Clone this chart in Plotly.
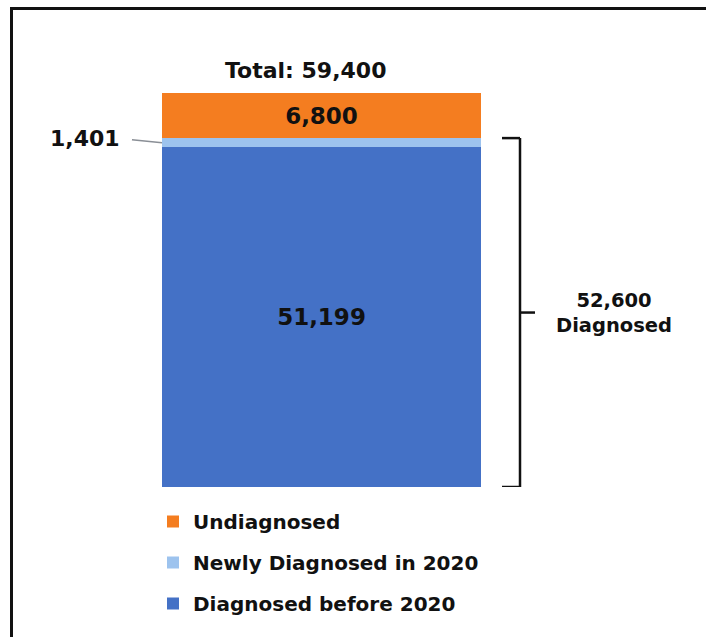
import plotly.graph_objects as go

# Estimated people living with the condition, split by diagnosis status
segments = ["Diagnosed before 2020", "Newly Diagnosed in 2020", "Undiagnosed"]
counts = [51199, 1401, 6800]
colors = ["#4471C6", "#9DC3EE", "#F47D20"]
legend_rank = [3, 2, 1]
category = ["Total"]

total = sum(counts)
diagnosed = counts[0] + counts[1]

W, H = 706, 637
# plot area (pixels) hosting the single stacked bar
L, R, T, B = 162, 481, 93, 487
FONT = "DejaVu Sans"
INK = "#111111"


def px(x):
    return (x - L) / (R - L)


def py(y):
    return (B - y) / (B - T)


fig = go.Figure()
for name, val, col, rank in zip(segments, counts, colors, legend_rank):
    show_text = name != "Newly Diagnosed in 2020"
    fig.add_trace(go.Bar(
        x=category, y=[val], name=name, legendgroup=name, legendrank=rank,
        marker=dict(color=col, line=dict(width=0)),
        width=1,
        text=[f"{val:,}"] if show_text else None,
        textposition="inside" if show_text else "none",
        insidetextanchor="middle",
        textangle=0,
        textfont=dict(family=FONT, size=23, color=INK, weight="bold"),
        hoverinfo="skip",
    ))

annotations = [
    dict(x=px(305), y=py(56), xref="paper", yref="paper", xanchor="center",
         text=f"<b>Total: {total:,}</b>", showarrow=False,
         font=dict(family=FONT, size=22, color=INK)),
    dict(x=-0.5, y=counts[0] + counts[1] / 2, xref="x", yref="y",
         text=f"<b>{counts[1]:,}</b>", showarrow=True, arrowhead=0,
         arrowwidth=1.5, arrowcolor="#8a8f96", ax=-40, ay=-4,
         startstandoff=10, xanchor="right",
         font=dict(family=FONT, size=22, color=INK)),
    dict(x=px(614), y=diagnosed / 2, xref="paper", yref="y", xanchor="center",
         text=f"<b>{diagnosed:,}<br>Diagnosed</b>", showarrow=False,
         font=dict(family=FONT, size=19.5, color=INK)),
]

bracket = dict(color="#111111", width=2.5)
shapes = [
    # bracket spanning all diagnosed cases
    dict(type="line", xref="paper", yref="y", x0=px(520), x1=px(520),
         y0=0, y1=diagnosed, line=bracket),
    dict(type="line", xref="paper", yref="y", x0=px(502), x1=px(520),
         y0=diagnosed, y1=diagnosed, line=bracket),
    dict(type="line", xref="paper", yref="y", x0=px(502), x1=px(520),
         y0=0, y1=0, line=bracket),
    dict(type="line", xref="paper", yref="y", x0=px(520), x1=px(535),
         y0=diagnosed / 2, y1=diagnosed / 2, line=bracket),
    # frame around the figure
    dict(type="line", xref="paper", yref="paper", x0=px(10), x1=px(706),
         y0=py(8.5), y1=py(8.5), line=dict(color="#111111", width=3)),
    dict(type="line", xref="paper", yref="paper", x0=px(11.5), x1=px(11.5),
         y0=py(7), y1=py(637), line=dict(color="#111111", width=3)),
]

fig.update_layout(
    width=W, height=H,
    margin=dict(l=L, r=W - R, t=T, b=H - B, pad=0, autoexpand=False),
    paper_bgcolor="white", plot_bgcolor="white",
    barmode="stack", bargap=0,
    xaxis=dict(visible=False, range=[-0.5, 0.5]),
    yaxis=dict(visible=False, range=[0, total]),
    showlegend=True,
    legend=dict(
        x=px(153), y=py(502), xanchor="left", yanchor="top",
        traceorder="grouped", tracegroupgap=12,
        font=dict(family=FONT, size=20, color=INK, weight="bold"),
        bgcolor="rgba(0,0,0,0)", borderwidth=0,
    ),
    annotations=annotations,
    shapes=shapes,
)

fig.write_html("out.html")
